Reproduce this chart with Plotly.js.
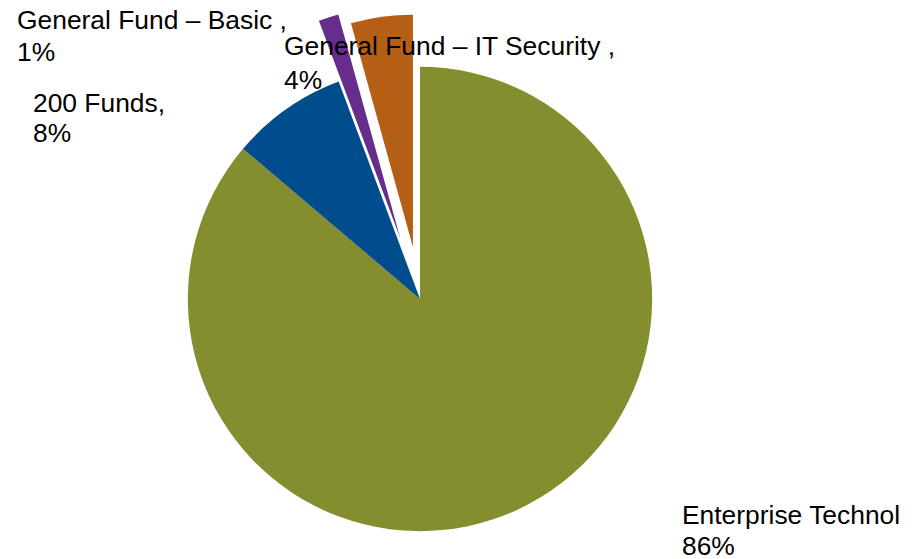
<!DOCTYPE html>
<html>
<head>
<meta charset="utf-8">
<script src="https://cdn.plot.ly/plotly-3.0.1.min.js"></script>
<style>
  html, body { margin: 0; padding: 0; background: #fff; overflow: hidden; width: 920px; height: 559px; }
  #chart { position: absolute; left: 0; top: 3px; width: 899px; height: 592px; overflow: hidden; }
</style>
</head>
<body>
<div id="chart"></div>
<script>
// ---- data ----
var labels = ["Enterprise Technology Fund", "200 Funds", "General Fund \u2013 Basic ", "General Fund \u2013 IT Security "];
var values = [86.2, 8.1, 1.4, 4.3];
var colors = ["#858E2F", "#004C8C", "#662D8C", "#B45E16"];
var pulls  = [0, 0, 0.275, 0.226];

// ---- layout helpers ----
var DIV_W = 899, DIV_H = 592, DIV_TOP = 3;
function px(x) { return x / DIV_W; }
function py(y) { return 1 - (y - DIV_TOP) / DIV_H; }

var total = values.reduce(function (a, b) { return a + b; }, 0);
var pct = values.map(function (v) { return Math.round(v / total * 100) + "%"; });

// label anchor positions (page px): left x, name-line centre y, pct-line centre y
var labelPos = [
  [681, 515, 546],
  [32, 103, 133],
  [16, 20, 52],
  [283, 46, 80]
];

var FONT = { family: "Liberation Sans, Arial, sans-serif", size: 26.4, color: "#000" };
var annotations = [];
labels.forEach(function (lab, i) {
  var p = labelPos[i];
  annotations.push({
    xref: "paper", yref: "paper", x: px(p[0]), y: py(p[1]),
    xanchor: "left", yanchor: "middle", showarrow: false, borderpad: 0,
    text: lab + ",", font: FONT
  });
  annotations.push({
    xref: "paper", yref: "paper", x: px(p[0]), y: py(p[2]),
    xanchor: "left", yanchor: "middle", showarrow: false, borderpad: 0,
    text: pct[i], font: FONT
  });
});

var trace = {
  type: "pie",
  labels: labels,
  values: values,
  pull: pulls,
  sort: false,
  direction: "clockwise",
  rotation: 0,
  textinfo: "none",
  hoverinfo: "label+percent",
  marker: { colors: colors, line: { width: 0 } },
  domain: { x: [0, 840 / DIV_W], y: [0, 1] },
  showlegend: false
};

var layout = {
  width: DIV_W, height: DIV_H,
  margin: { l: 0, r: 0, t: 0, b: 0 },
  paper_bgcolor: "#fff",
  showlegend: false,
  annotations: annotations
};

Plotly.newPlot("chart", [trace], layout, { displayModeBar: false, staticPlot: true });
</script>
</body>
</html>
